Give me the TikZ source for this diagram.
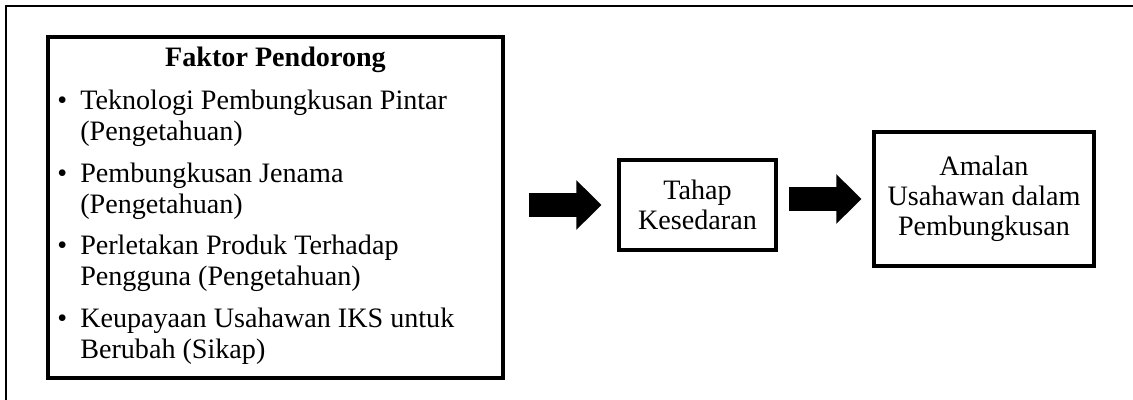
\documentclass[tikz,border=0pt]{standalone}
\usepackage{fontspec}
\setmainfont{Liberation Serif}
\usetikzlibrary{arrows.meta,positioning}

\newcommand{\bitem}[2]{\makebox[0.575cm][l]{\textbullet}\begin{tabular}[t]{@{}l@{}}#1\\#2\end{tabular}}

\begin{document}
\begin{tikzpicture}[x=0.025cm, y=-0.025cm,
    txt/.style={font=\fontsize{20}{21.5}\selectfont},
    box/.style={draw, line width=2.2pt, inner sep=0pt, align=center, txt},
    itemtxt/.style={anchor=base west, inner sep=0pt, align=left, font=\fontsize{20}{22}\selectfont},
    fat/.style={line width=0.59cm, -{Triangle[length=0.625cm, width=1.2cm]}}]
    \useasboundingbox (0,0) rectangle (1133,400);
    \draw[line width=1.4pt] (6,400) -- (6,6) -- (1133,6);
    \node[box, line width=2.6pt, minimum width=11.375cm, minimum height=8.525cm] (factors) at (275.5,207.5) {};
    \node[txt, anchor=base, inner sep=0pt] (title) at (275.5,67) {\textbf{Faktor Pendorong}};
    \node[itemtxt] (item1) at (57,110) {\bitem{Teknologi Pembungkusan Pintar}{(Pengetahuan)}};
    \node[itemtxt] (item2) at (57,183) {\bitem{Pembungkusan Jenama}{(Pengetahuan)}};
    \node[itemtxt] (item3) at (57,255) {\bitem{Perletakan Produk Terhadap}{Pengguna (Pengetahuan)}};
    \node[itemtxt] (item4) at (57,328) {\bitem{Keupayaan Usahawan IKS untuk}{Berubah (Sikap)}};
    \node[box, minimum width=3.925cm, minimum height=2.25cm] (stage) at (697.5,205) {Tahap\\Kesedaran};
    \node[box, minimum width=5.5cm, minimum height=3.35cm] (practice) at (984,199) {Amalan\\Usahawan dalam\\Pembungkusan};
    \draw[fat, shorten <=0.6cm, shorten >=0.4cm] (factors.east |- stage.west) -- (stage.west);
    \draw[fat, shorten <=0.275cm, shorten >=0.275cm] (stage.east |- practice.west) -- (practice.west);
\end{tikzpicture}
\end{document}
